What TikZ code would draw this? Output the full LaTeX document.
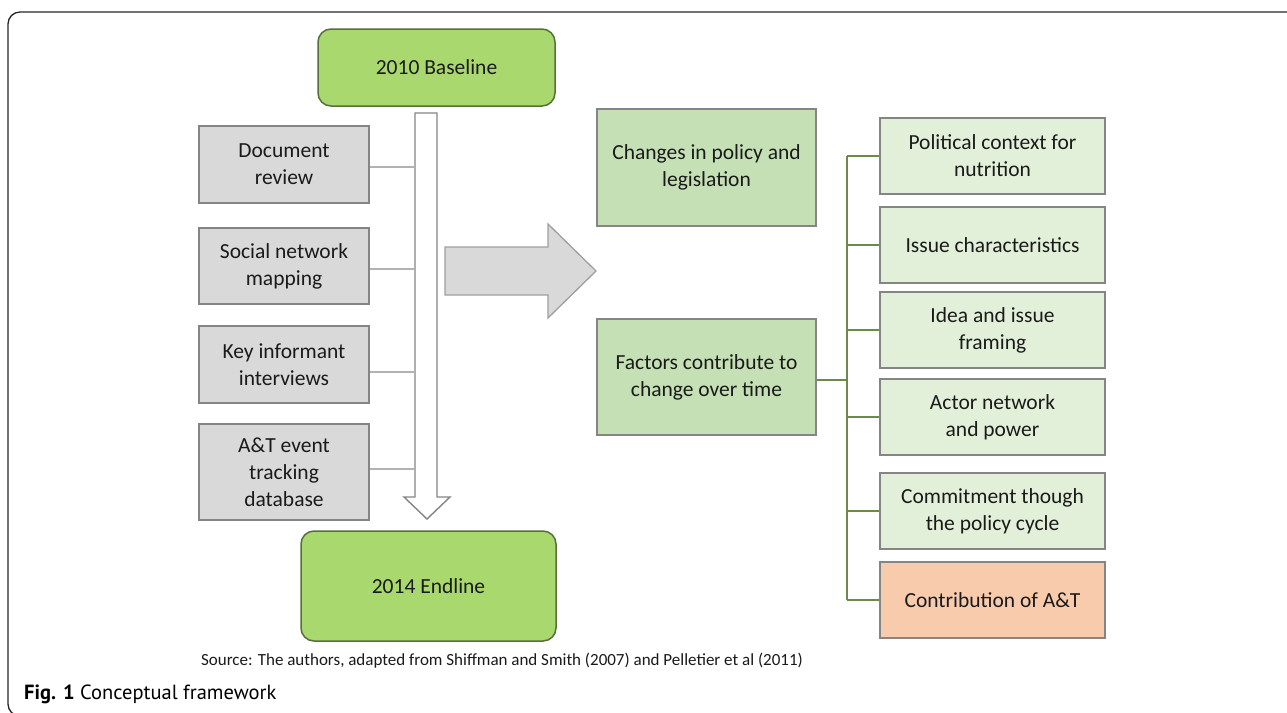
\documentclass[tikz,border=0pt]{standalone}
\usepackage{fontspec}
\setmainfont{Carlito}
\newfontfamily\capfont{PT Sans}
\definecolor{limefill}{HTML}{A9D86E}
\definecolor{limedraw}{HTML}{55703B}
\definecolor{midgreen}{HTML}{C5E0B4}
\definecolor{lightgreen}{HTML}{E2F0D9}
\definecolor{peach}{HTML}{F8CBAD}
\definecolor{boxgray}{HTML}{D9D9D9}
\definecolor{bordergray}{HTML}{858585}
\definecolor{busgreen}{HTML}{6B8A4C}
\definecolor{txt}{HTML}{1A1A1A}
\begin{document}
\begin{tikzpicture}[x=1pt,y=-1pt,
  every node/.style={text=txt, font=\fontsize{21.5}{27}\selectfont, align=center, inner sep=2pt},
  limebox/.style={draw=limedraw, fill=limefill, line width=1.5pt, rounded corners=13pt},
  graybox/.style={draw=bordergray, fill=boxgray, line width=1.4pt, minimum width=170pt},
  midbox/.style={draw=bordergray, fill=midgreen, line width=1.4pt, minimum width=219pt},
  rbox/.style={draw=bordergray, fill=lightgreen, line width=1.4pt, minimum width=225pt, minimum height=76pt},
  pbox/.style={rbox, fill=peach},
  link/.style={draw=gray!60, line width=1.2pt},
  bus/.style={draw=busgreen, line width=1.8pt}]
\useasboundingbox (0,0) rectangle (1287,712);
\fill[white] (0,0) rectangle (1287,712);
\draw[line width=1.3pt, rounded corners=12pt, black!85] (8,12) rectangle (1300,716);

% left column
\node[limebox, minimum width=237pt, minimum height=77pt] (base) at (436.5,67.5) {2010 Baseline};
\node[limebox, minimum width=255pt, minimum height=110pt] (end) at (428.5,586) {2014 Endline};

% vertical hollow arrow
\draw[draw=bordergray, fill=white, line width=1.4pt, line join=miter]
  (415,113) -- (437,113) -- (437,497) -- (450,497) -- (427,519) -- (404,497) -- (415,497) -- cycle;
\coordinate (shaft) at (415,300);

\node[graybox, minimum height=77pt] (doc) at (284,164.5) {Document\\review};
\node[graybox, minimum height=76pt] (sna) at (284,266) {Social network\\mapping};
\node[graybox, minimum height=77pt] (kii) at (284,364.5) {Key informant\\interviews};
\node[graybox, minimum height=96pt] (at) at (284,472) {A\&T event\\tracking\\database};

\foreach \n/\yy in {doc/167, sna/269, kii/372, at/469}{
  \draw[link] (\n.east |- 0,\yy) -- (shaft |- 0,\yy);
}

% big right arrow
\draw[draw=gray!75, fill=boxgray, line width=1.3pt, line join=miter]
  (445,247) -- (548,247) -- (548,224) -- (596,271) -- (548,318) -- (548,295) -- (445,295) -- cycle;

% middle boxes
\node[midbox, minimum height=117pt] (chg) at (706.5,167.5) {Changes in policy and\\legislation};
\node[midbox, minimum height=116pt] (fac) at (706.5,377) {Factors contribute to\\change over time};

% right boxes
\node[rbox] (pol) at (992.5,156) {Political context for\\nutrition};
\node[rbox] (iss) at (992.5,245) {Issue characteristics};
\node[rbox] (idea) at (992.5,330) {Idea and issue\\framing};
\node[rbox] (act) at (992.5,417) {Actor network\\and power};
\node[rbox] (com) at (992.5,511) {Commitment though\\the policy cycle};
\node[pbox] (con) at (992.5,600) {Contribution of A\&T};

\coordinate (busx) at (847,0);
\draw[bus] (fac.east |- 0,380) -- (busx |- 0,380);
\draw[bus] (busx |- pol.west) -- (busx |- con.west);
\foreach \n in {pol,iss,idea,act,com,con}{
  \draw[bus] (busx |- \n.west) -- (\n.west);
}

% source and caption
\node[font=\fontsize{17}{20}\selectfont, anchor=base, inner sep=0pt] (src) at (502,665)
  {Source: The authors, adapted from Shiffman and Smith (2007) and Pelletier et al (2011)};
\node[font=\capfont\fontsize{20.5}{24}\selectfont, anchor=west, inner sep=0pt, text=black] (cap) at (24,694)
  {\textbf{Fig. 1} Conceptual framework};
\end{tikzpicture}
\end{document}
